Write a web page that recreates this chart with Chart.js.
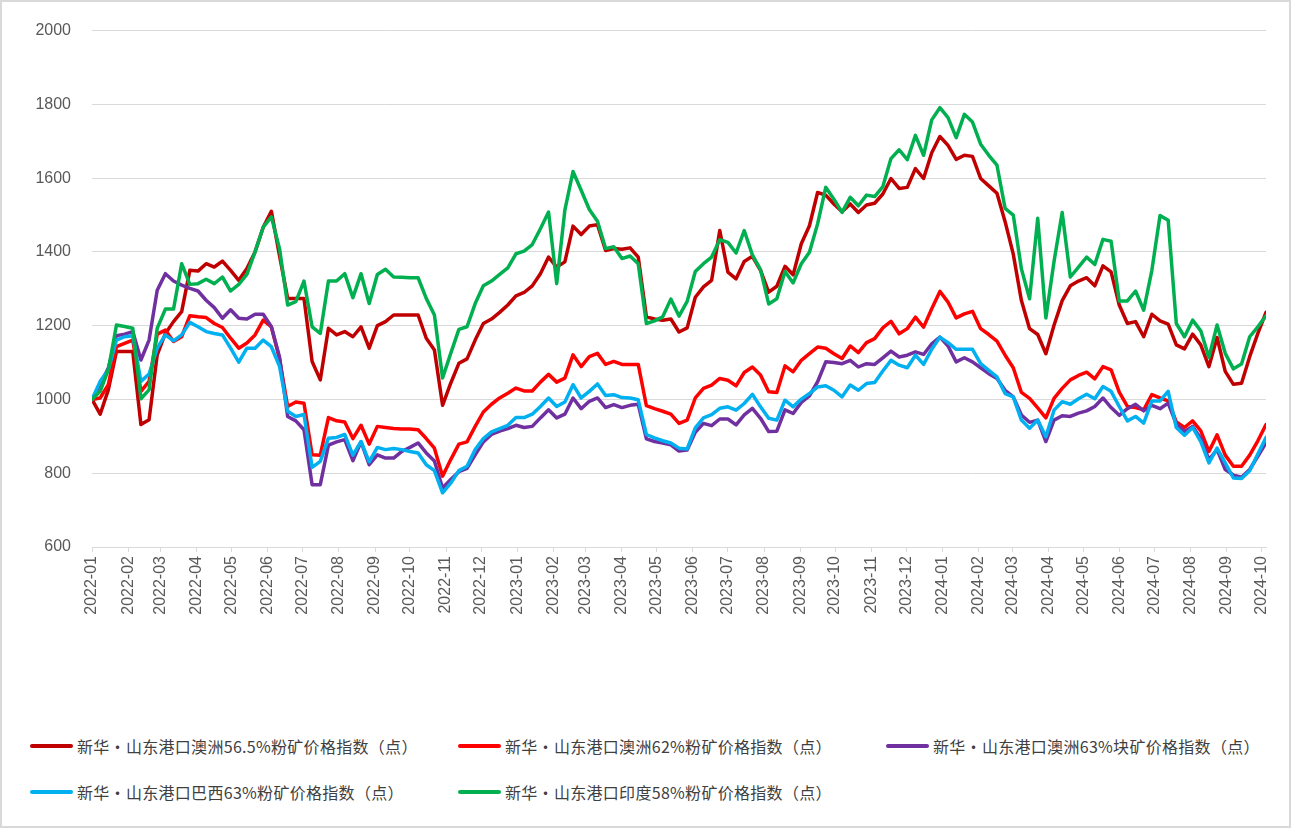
<!DOCTYPE html>
<html>
<head>
<meta charset="utf-8">
<script src="https://cdn.jsdelivr.net/npm/chart.js@4/dist/chart.umd.min.js"></script>
<style>
  body { margin: 0; background: #fff; }
  #wrap { position: relative; width: 1291px; height: 828px; overflow: hidden; background: #fff; }
  #chart { position: absolute; left: 0; top: 0; }
  #frame { position: absolute; left: 0; top: 0; width: 1291px; height: 828px; box-sizing: border-box; border: 2px solid #d9d9d9; pointer-events: none; }
  #legend { position: absolute; left: 30px; top: 735px; display: grid; grid-template-columns: 428px 428px 400px; row-gap: 24px; font: 16px "Noto Sans CJK SC", sans-serif; color: #404040; }
  .item { display: flex; align-items: center; height: 22px; white-space: nowrap; }
  .swatch { width: 43px; height: 4px; border-radius: 2px; margin-right: 4px; }
  .label { letter-spacing: 0.3px; }
</style>
</head>
<body>
<div id="wrap">
  <canvas id="chart" width="1291" height="700"></canvas>
  <div id="legend"></div>
  <div id="frame"></div>
</div>
<script>
// month tick labels on the x axis
const monthLabels = [
  '2022-01', '2022-02', '2022-03', '2022-04', '2022-05', '2022-06', '2022-07', '2022-08', '2022-09', '2022-10', '2022-11', '2022-12',
  '2023-01', '2023-02', '2023-03', '2023-04', '2023-05', '2023-06', '2023-07', '2023-08', '2023-09', '2023-10', '2023-11', '2023-12',
  '2024-01', '2024-02', '2024-03', '2024-04', '2024-05', '2024-06', '2024-07', '2024-08', '2024-09', '2024-10'
];

// weekly observations, as day offsets from 2022-01-01
const weekDay = Array.from({ length: 145 }, (_, i) => i * 7);

const seriesNames = [
  '新华・山东港口澳洲56.5%粉矿价格指数（点）',
  '新华・山东港口澳洲62%粉矿价格指数（点）',
  '新华・山东港口澳洲63%块矿价格指数（点）',
  '新华・山东港口巴西63%粉矿价格指数（点）',
  '新华・山东港口印度58%粉矿价格指数（点）'
];
const seriesColors = ['#C00000', '#FF0000', '#7030A0', '#00B0F0', '#00B050'];

const aus565 = [
  1000, 960, 1026, 1130, 1130, 1130, 932, 945, 1121, 1179, 1211, 1238, 1350, 1348, 1368, 1359, 1375, 1350, 1323, 1355, 1400, 1467, 1510, 1390,
  1274, 1274, 1274, 1103, 1053, 1193, 1175, 1184, 1170, 1197, 1139, 1200, 1211, 1229, 1229, 1229, 1229, 1166, 1134, 984, 1044, 1098, 1110, 1161,
  1206, 1218, 1236, 1256, 1281, 1290, 1308, 1341, 1386, 1359, 1373, 1470, 1447, 1470, 1474, 1404, 1409, 1407, 1411, 1386, 1224, 1218, 1215, 1218,
  1183, 1194, 1277, 1305, 1323, 1458, 1345, 1327, 1374, 1388, 1350, 1291, 1307, 1361, 1338, 1422, 1471, 1561, 1554, 1530, 1509, 1530, 1507, 1527,
  1532, 1557, 1599, 1572, 1575, 1626, 1599, 1669, 1713, 1689, 1651, 1662, 1659, 1599, 1579, 1559, 1482, 1394, 1268, 1192, 1176, 1124, 1201, 1268,
  1308, 1321, 1330, 1308, 1362, 1346, 1256, 1206, 1211, 1170, 1231, 1213, 1204, 1148, 1137, 1177, 1148, 1089, 1168, 1076, 1041, 1044, 1116, 1179, 1236
];

const aus62 = [
  1000, 1004, 1040, 1143, 1152, 1161, 1022, 1049, 1177, 1188, 1157, 1170, 1227, 1224, 1222, 1206, 1195, 1166, 1139, 1153, 1175, 1215, 1197, 1110,
  981, 993, 990, 850, 849, 951, 942, 939, 894, 930, 879, 927, 924, 921, 920, 920, 918, 894, 868, 792, 837, 879, 885, 927,
  966, 987, 1004, 1017, 1031, 1023, 1023, 1047, 1068, 1047, 1058, 1121, 1089, 1116, 1125, 1095, 1103, 1095, 1095, 1095, 983, 975, 968, 960,
  935, 944, 1004, 1030, 1039, 1057, 1052, 1037, 1073, 1088, 1066, 1021, 1019, 1091, 1075, 1106, 1124, 1142, 1139, 1124, 1111, 1145, 1127, 1154,
  1165, 1194, 1212, 1178, 1192, 1223, 1196, 1246, 1293, 1264, 1221, 1232, 1239, 1192, 1176, 1158, 1120, 1086, 1019, 1003, 977, 950, 1003, 1030,
  1053, 1065, 1074, 1056, 1089, 1080, 1020, 981, 978, 972, 1013, 1004, 996, 939, 924, 942, 915, 859, 904, 849, 819, 819, 849, 888, 932
];

const aus63Lump = [
  1000, 1040, 1085, 1173, 1177, 1184, 1107, 1161, 1296, 1341, 1321, 1310, 1301, 1294, 1269, 1249, 1220, 1243, 1220, 1218, 1231, 1231, 1197, 1115,
  954, 942, 918, 769, 769, 876, 885, 891, 834, 885, 823, 850, 841, 841, 859, 870, 882, 855, 833, 760, 783, 804, 813, 850,
  885, 905, 914, 921, 930, 924, 927, 950, 972, 950, 960, 1004, 975, 995, 1004, 978, 986, 978, 984, 987, 893, 886, 882, 877,
  860, 863, 911, 935, 929, 947, 947, 931, 958, 976, 949, 913, 914, 972, 962, 992, 1010, 1048, 1102, 1100, 1097, 1106, 1088, 1097,
  1095, 1113, 1131, 1115, 1120, 1129, 1122, 1151, 1169, 1145, 1102, 1113, 1102, 1086, 1070, 1057, 1025, 1007, 958, 938, 944, 886, 944, 956,
  954, 963, 969, 981, 1004, 978, 957, 975, 987, 969, 984, 975, 990, 933, 913, 927, 894, 837, 864, 810, 795, 789, 810, 846, 882
];

const bra63 = [
  1000, 1049, 1080, 1161, 1170, 1173, 1049, 1069, 1139, 1175, 1159, 1175, 1209, 1197, 1184, 1179, 1175, 1139, 1101, 1139, 1139, 1161, 1143, 1090,
  968, 954, 959, 816, 832, 895, 897, 905, 849, 886, 831, 870, 864, 867, 864, 859, 855, 823, 807, 747, 773, 807, 819, 864,
  894, 912, 921, 930, 951, 951, 960, 981, 1004, 981, 993, 1040, 1004, 1022, 1042, 1011, 1013, 1005, 1004, 999, 905, 896, 888, 882,
  868, 866, 923, 950, 959, 976, 980, 971, 989, 1014, 980, 949, 944, 998, 980, 1001, 1016, 1034, 1037, 1025, 1007, 1039, 1025, 1043,
  1046, 1077, 1106, 1093, 1086, 1120, 1095, 1136, 1169, 1154, 1136, 1136, 1136, 1097, 1079, 1061, 1016, 1007, 944, 922, 944, 899, 971, 994,
  987, 1002, 1014, 1002, 1035, 1022, 981, 942, 954, 936, 996, 996, 1022, 924, 903, 924, 886, 828, 868, 828, 787, 786, 807, 852, 897
];

const ind58 = [
  1000, 1022, 1080, 1202, 1198, 1193, 1002, 1026, 1193, 1245, 1245, 1368, 1312, 1314, 1326, 1314, 1332, 1294, 1312, 1339, 1400, 1467, 1495, 1409,
  1256, 1265, 1321, 1197, 1179, 1321, 1321, 1341, 1276, 1341, 1260, 1339, 1353, 1332, 1331, 1330, 1330, 1274, 1229, 1058, 1125, 1190, 1197, 1260,
  1308, 1321, 1339, 1357, 1395, 1402, 1420, 1463, 1508, 1314, 1513, 1618, 1567, 1515, 1483, 1409, 1414, 1382, 1389, 1368, 1206, 1213, 1224, 1272,
  1226, 1266, 1347, 1368, 1386, 1433, 1426, 1397, 1458, 1392, 1352, 1259, 1273, 1347, 1316, 1368, 1399, 1476, 1575, 1543, 1507, 1548, 1525, 1554,
  1550, 1577, 1653, 1677, 1650, 1716, 1662, 1758, 1791, 1764, 1710, 1773, 1752, 1692, 1662, 1635, 1518, 1500, 1354, 1273, 1491, 1221, 1374, 1507,
  1332, 1359, 1386, 1366, 1434, 1429, 1267, 1267, 1294, 1242, 1350, 1499, 1486, 1206, 1170, 1215, 1186, 1114, 1202, 1125, 1083, 1096, 1170, 1197, 1227
];

const yTicks = { min: 600, max: 2000, step: 200 };

const allSeries = [aus565, aus62, aus63Lump, bra63, ind58];

const dayOf = label => {
  const [y, m] = label.split('-').map(Number);
  return (Date.UTC(y, m - 1, 1) - Date.UTC(2022, 0, 1)) / 86400000;
};
const monthDay = monthLabels.map(dayOf);

const tickFont = { family: '"Liberation Sans", Arial, sans-serif', size: 16 };

const chart = new Chart(document.getElementById('chart'), {
  type: 'line',
  data: {
    datasets: allSeries.map((values, i) => ({
      label: seriesNames[i],
      data: values.map((v, k) => ({ x: weekDay[k], y: v })),
      borderColor: seriesColors[i],
      backgroundColor: seriesColors[i],
      order: allSeries.length - i
    }))
  },
  options: {
    responsive: false,
    animation: false,
    layout: {
      padding: { top: 26, right: 25, left: 0, bottom: 0 }
    },
    plugins: {
      legend: { display: false },
      tooltip: { enabled: false }
    },
    elements: {
      point: { radius: 0 },
      line: { borderWidth: 3.5, tension: 0, borderJoinStyle: 'round', borderCapStyle: 'round' }
    },
    scales: {
      x: {
        type: 'linear',
        min: 0,
        max: weekDay[weekDay.length - 1],
        afterBuildTicks: scale => {
          scale.ticks = monthDay.map(v => ({ value: v }));
        },
        afterFit: scale => {
          scale.height = 153;
        },
        ticks: {
          autoSkip: false,
          minRotation: 90,
          maxRotation: 90,
          padding: 4,
          color: '#595959',
          font: tickFont,
          callback: (value, index) => monthLabels[index]
        },
        grid: {
          drawOnChartArea: false,
          tickLength: 5,
          color: '#d9d9d9'
        },
        border: { color: '#d9d9d9' }
      },
      y: {
        min: yTicks.min,
        max: yTicks.max,
        afterFit: scale => {
          scale.width = 92;
        },
        ticks: {
          stepSize: yTicks.step,
          padding: 21,
          color: '#595959',
          font: tickFont,
          callback: value => String(value)
        },
        grid: {
          color: '#d9d9d9',
          drawTicks: false
        },
        border: { display: false }
      }
    }
  }
});

// legend laid out as a 3-column grid, like the original
const legend = document.getElementById('legend');
seriesNames.forEach((name, i) => {
  const item = document.createElement('div');
  item.className = 'item';
  const swatch = document.createElement('span');
  swatch.className = 'swatch';
  swatch.style.background = seriesColors[i];
  const text = document.createElement('span');
  text.className = 'label';
  text.textContent = name;
  item.appendChild(swatch);
  item.appendChild(text);
  legend.appendChild(item);
});
</script>
</body>
</html>
